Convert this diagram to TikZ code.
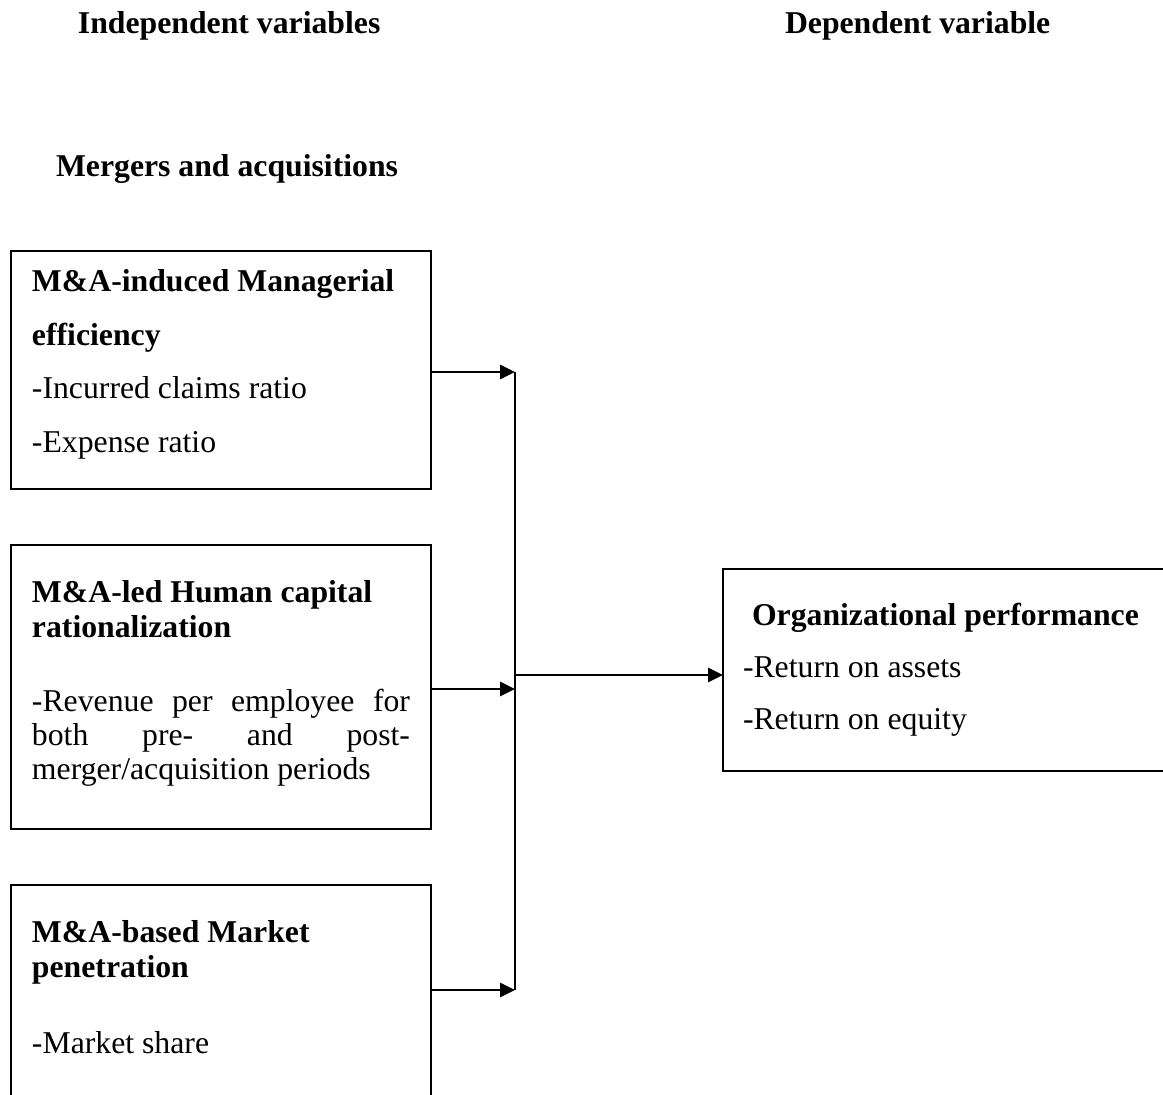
\documentclass[tikz,border=0pt]{standalone}
\usepackage{fontspec}
\setmainfont{Liberation Serif}
\usetikzlibrary{arrows.meta}
\begin{document}
\begin{tikzpicture}[x=0.375pt,y=-0.375pt,
  box/.style={draw, line width=0.75pt, inner sep=0pt, outer sep=0pt},
  txt/.style={anchor=base west, inner sep=0pt, outer sep=0pt, font=\fontsize{11.9}{14}\selectfont},
  hd/.style={txt, font=\fontsize{11.9}{14}\selectfont\bfseries},
  conn/.style={line width=0.9pt},
  arr/.style={conn, -{Triangle[length=5.6pt,width=5.3pt]}}]
\useasboundingbox (0,0) rectangle (1163,1095);
\begin{scope}
\clip (0,0) rectangle (1163,1095);
% headers
\node[hd] (indep) at (78,34) {Independent variables};
\node[hd] (dep) at (785,34) {Dependent variable};
\node[hd] (ma) at (56,177) {Mergers and acquisitions};
% boxes
\node[box, minimum width=157.5pt, minimum height=89.25pt] (b1) at (221,370) {};
\node[box, minimum width=157.5pt, minimum height=106.5pt] (b2) at (221,687) {};
\node[box, minimum width=157.5pt, minimum height=80.625pt] (b3) at (221,992.5) {};
\node[box, minimum width=169.5pt, minimum height=75.75pt] (b4) at (949,670) {};
% box 1 text
\node[hd] (b1h1) at (32,292) {M\&A-induced Managerial};
\node[hd] (b1h2) at (32,346) {efficiency};
\node[txt] (b1t1) at (32,399) {-Incurred claims ratio};
\node[txt] (b1t2) at (32,453) {-Expense ratio};
% box 2 text
\node[hd] (b2h1) at (32,603) {M\&A-led Human capital};
\node[hd] (b2h2) at (32,638) {rationalization};
\node[txt] (b2t1) at (32,712) {\makebox[141.75pt][s]{-Revenue per employee for}};
\node[txt] (b2t2) at (32,746) {\makebox[141.75pt][s]{both pre- and post-}};
\node[txt] (b2t3) at (32,780) {merger/acquisition periods};
% box 3 text
\node[hd] (b3h1) at (32,942) {M\&A-based Market};
\node[hd] (b3h2) at (32,977) {penetration};
\node[txt] (b3t1) at (32,1054) {-Market share};
% box 4 text
\node[hd] (b4h) at (752,626) {Organizational performance};
\node[txt] (b4t1) at (743,678) {-Return on assets};
\node[txt] (b4t2) at (743,730) {-Return on equity};
% connectors
\coordinate (top) at (515,372);
\coordinate (m2) at (515,689);
\coordinate (bot) at (515,990);
\coordinate (mid) at (515,675);
\draw[conn] (top) -- (bot);
\draw[arr] (b1.east |- top) -- (top);
\draw[arr] (b2.east |- m2) -- (m2);
\draw[arr] (b3.east |- bot) -- (bot);
\draw[arr] (mid) -- (b4.west |- mid);
\end{scope}
\end{tikzpicture}
\end{document}
